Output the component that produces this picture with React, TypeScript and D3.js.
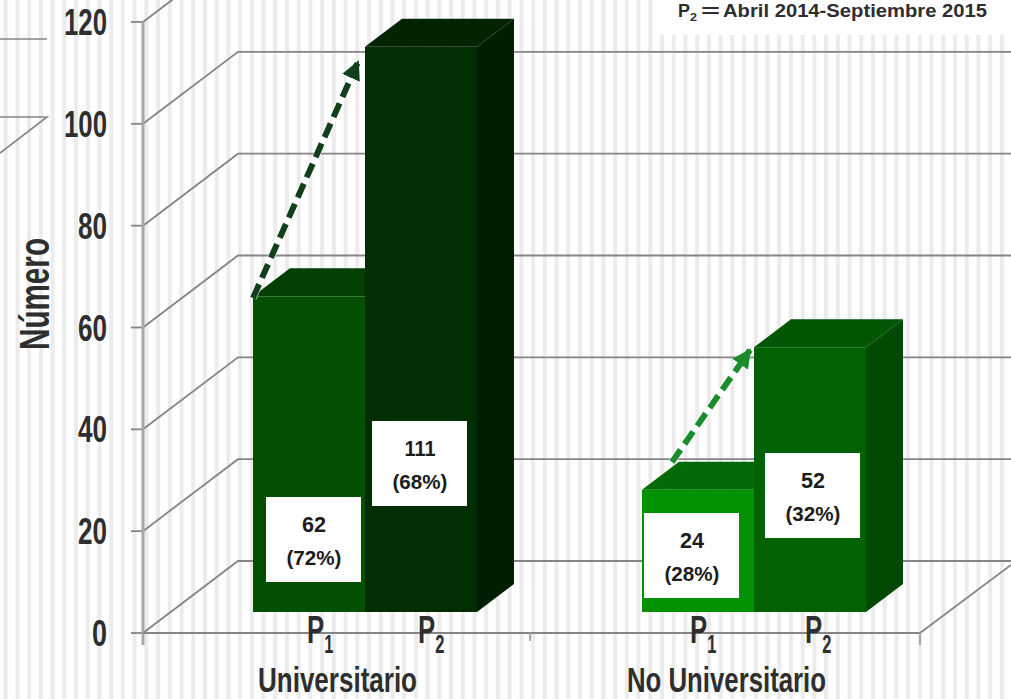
import * as d3 from "d3";

const groups = ["Universitario", "No Universitario"];
const periodSubs = ["1", "2"];
const counts = [62, 111, 24, 52];
const shares = ["(72%)", "(68%)", "(28%)", "(32%)"];
const yTicks = [0, 20, 40, 60, 80, 100, 120];
const frontColors = ["#034f03", "#032e03", "#029103", "#026203"];
const topColors = ["#033f03", "#022402", "#026a06", "#025503"];
const sideColors = ["#033804", "#021e02", "#026a05", "#024a03"];
const arrowColors = ["#103f1a", "#1b8c2c"];

const FONT = "'Liberation Sans', sans-serif";
const INK = "#2e2e2e";
const GRID = "#858585";

const W = 1011;
const H = 699;
const wallX = 143;
const cornerX = 920;
const depthX = 95;
const depthY = 72;
const barDepthX = 37;
const barDepthY = 28;
const barLift = 21;
const barW = 112;

const y = d3.scaleLinear().domain([0, 120]).range([633, 22]);
const barY = (v: number) => y(v) - barLift;
const groupX = d3.scalePoint<string>().domain(groups).range([365, 754]);
const stripes = d3.range(3.7, W, 11.72);

const boxTops = [497, 421, 513, 453];
const boxLefts = [266, 372, 644, 765];

const arrowStarts = [[253, 298], [672, 462]];
const arrowEnds = [[358, 62], [750, 350]];

const periodX = [[307, 418], [690, 805]];

function pts(p: number[][]) {
  return p.map((q) => q.join(",")).join(" ");
}

// Condensed lettering: the installed sans is squeezed to the measured run width.
function Squeezed({ x, yy, w, size, fill = INK, children, anchor = "start", transform }: any) {
  return (
    <text
      x={x}
      y={yy}
      transform={transform}
      fontFamily={FONT}
      fontSize={size}
      fontWeight={700}
      fill={fill}
      textAnchor={anchor}
      textLength={w}
      lengthAdjust="spacingAndGlyphs"
    >
      {children}
    </text>
  );
}

export default function App() {
  return (
    <svg width={W} height={H} viewBox={`0 0 ${W} ${H}`} style={{ position: "fixed", left: 0, top: 0, display: "block" }}>
      <rect width={W} height={H} fill="#ffffff" />
      {stripes.map((s) => (
        <rect key={s} x={s} y={0} width={4} height={H} fill="#ececec" />
      ))}

      {/* frame lines at the left edge */}
      <g stroke={GRID} strokeWidth={1.6} fill="none">
        <line x1={0} x2={47} y1={39} y2={39} />
        <polyline points={pts([[0, 117], [47, 117], [0, 153]])} />
      </g>

      {/* period legend */}
      <rect x={660} y={0} width={351} height={35} fill="#ffffff" />
      <Squeezed x={678} yy={17} w={12} size={18}>P</Squeezed>
      <Squeezed x={690} yy={21} w={7} size={11}>2</Squeezed>
      <Squeezed x={701} yy={17} w={19} size={18}>=</Squeezed>
      <Squeezed x={723} yy={17} w={264} size={18}>Abril 2014-Septiembre 2015</Squeezed>

      {/* wall and side gridlines */}
      {yTicks.map((t) => (
        <g key={t} stroke={GRID} fill="none">
          <polyline
            strokeWidth={1.8}
            points={pts([[wallX, y(t)], [wallX + depthX, y(t) - depthY], [W, y(t) - depthY]])}
          />
          <line x1={131} x2={wallX} y1={y(t)} y2={y(t)} strokeWidth={1.8} />
        </g>
      ))}
      <line x1={wallX} x2={wallX} y1={y(120)} y2={645} stroke="#a8a8a8" strokeWidth={3} />

      {/* floor */}
      <g stroke={GRID} fill="none" strokeWidth={1.8}>
        <line x1={wallX} x2={cornerX} y1={y(0)} y2={y(0)} />
        <line x1={cornerX} x2={W} y1={y(0)} y2={y(0) - 68} />
        <line x1={cornerX} x2={cornerX} y1={y(0)} y2={645} stroke="#a8a8a8" strokeWidth={2} />
        <line x1={530} x2={530} y1={y(0)} y2={641} stroke="#a8a8a8" strokeWidth={2} />
      </g>

      {/* bars: left member first so the right member's front covers its side */}
      {counts.map((c, i) => {
        const g = groups[i < 2 ? 0 : 1];
        const left = groupX(g)! + (i % 2 === 0 ? -barW : 0);
        const right = left + barW;
        const top = barY(c);
        const base = barY(0);
        return (
          <g key={i}>
            <polygon
              fill={sideColors[i]}
              points={pts([[right, top], [right + barDepthX, top - barDepthY], [right + barDepthX, base - barDepthY], [right, base]])}
            />
            <polygon
              fill={topColors[i]}
              points={pts([[left, top], [left + barDepthX, top - barDepthY], [right + barDepthX, top - barDepthY], [right, top]])}
            />
            <rect x={left} y={top} width={barW} height={base - top} fill={frontColors[i]} />
          </g>
        );
      })}

      {/* growth arrows: white underlay shows through the dash gaps */}
      <defs>
        {arrowColors.map((c, i) => (
          <marker key={c} id={`head${i}`} viewBox="0 0 10 10" refX={9} refY={5} markerWidth={3.2} markerHeight={3.2} orient="auto">
            <path d="M0,0 L10,5 L0,10 Z" fill={c} />
          </marker>
        ))}
      </defs>
      {arrowStarts.map((s, i) => (
        <g key={i}>
          <line x1={s[0]} y1={s[1]} x2={arrowEnds[i][0]} y2={arrowEnds[i][1]} stroke="#ffffff" strokeWidth={7} />
          <line
            x1={s[0]}
            y1={s[1]}
            x2={arrowEnds[i][0]}
            y2={arrowEnds[i][1]}
            stroke={arrowColors[i]}
            strokeWidth={6}
            strokeDasharray="15 7"
            markerEnd={`url(#head${i})`}
          />
        </g>
      ))}

      {/* value boxes */}
      {counts.map((c, i) => (
        <g key={i}>
          <rect x={boxLefts[i]} y={boxTops[i]} width={95} height={85} fill="#ffffff" />
          <Squeezed x={boxLefts[i] + 48} yy={boxTops[i] + 35} w={c > 99 ? 31 : 24} size={22} anchor="middle" fill="#1c1c1c">
            {c}
          </Squeezed>
          <Squeezed x={boxLefts[i] + 48} yy={boxTops[i] + 68} w={55} size={21} anchor="middle" fill="#1c1c1c">
            {shares[i]}
          </Squeezed>
        </g>
      ))}

      {/* value axis */}
      {yTicks.map((t) => (
        <Squeezed key={t} x={107} yy={y(t) + 13} w={String(t).length === 1 ? 15 : String(t).length === 2 ? 29 : 43} size={36} anchor="end">
          {t}
        </Squeezed>
      ))}
      <Squeezed transform="translate(49,294) rotate(-90)" x={0} yy={0} w={112} size={42} anchor="middle">
        Número
      </Squeezed>

      {/* period and group labels */}
      {periodX.map((row, g) =>
        row.map((px, j) => (
          <text
            key={`${g}-${j}`}
            transform={`translate(${px},643) scale(0.66,1)`}
            fontFamily={FONT}
            fontSize={39}
            fontWeight={700}
            fill={INK}
          >
            <tspan>P</tspan>
            <tspan dy={10} fontSize={25}>{periodSubs[j]}</tspan>
          </text>
        ))
      )}
      {groups.map((g, i) => (
        <Squeezed key={g} x={[258, 627][i]} yy={692} w={[159, 199][i]} size={35}>
          {g}
        </Squeezed>
      ))}
    </svg>
  );
}
